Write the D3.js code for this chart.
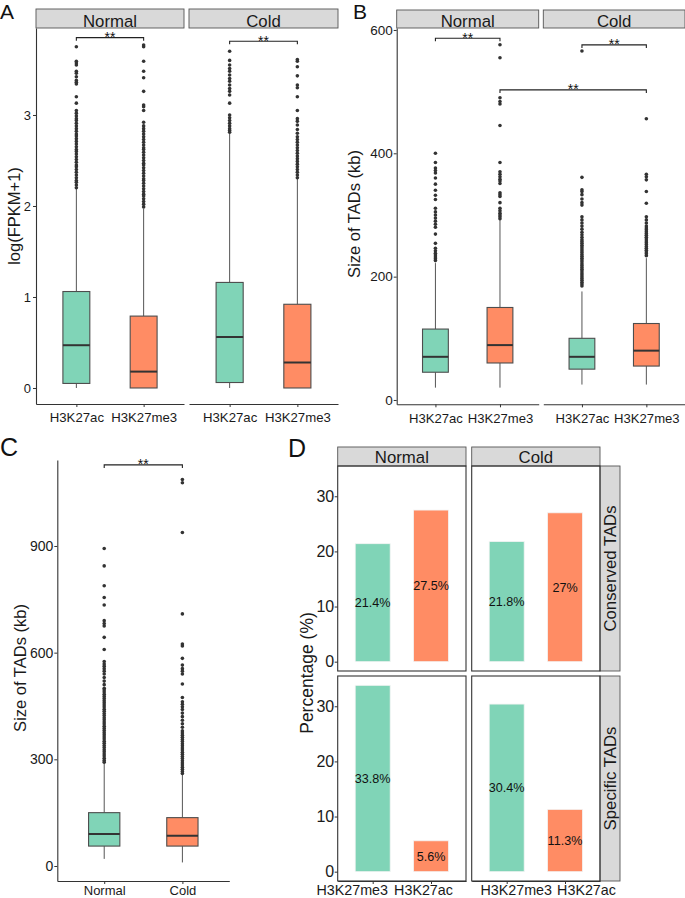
<!DOCTYPE html>
<html>
<head>
<meta charset="utf-8">
<script src="https://cdn.jsdelivr.net/npm/d3@7"></script>
<style>
  body { margin: 0; background: #fff; }
  text { font-family: "Liberation Sans", Arial, sans-serif; }
</style>
</head>
<body>
<div id="fig"></div>
<script>
// ---- données ----
const marks = ["H3K27ac", "H3K27me3"]
const conditions = ["Normal", "Cold"]

// A : log(FPKM+1)  [moustache bas, q1, médiane, q3, moustache haut]
// ordre : Normal-ac, Normal-me3, Cold-ac, Cold-me3
const fpkmStats = [
  [0, 0.05, 0.47, 1.06, 2.19],
  [0, 0, 0.18, 0.79, 1.97],
  [0, 0.06, 0.56, 1.16, 2.80],
  [0, 0, 0.28, 0.92, 2.30]
]
const fpkmOutliers = [
  [3.75,3.59,3.57,3.55,3.48,3.46,3.42,3.38,3.36,3.34,3.20,3.13,3.05,3.02,2.99,2.96,2.94,2.91,2.88,2.85,2.82,2.79,2.77,2.74,2.71,2.68,2.65,2.62,2.60,2.57,2.54,2.51,2.48,2.45,2.43,2.40,2.37,2.34,2.31,2.28,2.26,2.23,2.20],
  [3.77,3.75,3.59,3.48,3.41,3.26,3.11,3.09,3.05,2.92,2.88,2.85,2.82,2.79,2.76,2.73,2.70,2.67,2.64,2.62,2.59,2.56,2.53,2.50,2.47,2.45,2.42,2.39,2.36,2.33,2.30,2.28,2.25,2.22,2.19,2.16,2.13,2.11,2.08,2.05,2.02,1.99],
  [3.70,3.60,3.55,3.51,3.48,3.44,3.40,3.37,3.33,3.29,3.26,3.22,3.13,3.00,2.97,2.94,2.91,2.88,2.85,2.83,2.81],
  [3.61,3.59,3.53,3.43,3.33,3.30,3.20,3.05,2.96,2.93,2.89,2.84,2.80,2.76,2.73,2.70,2.67,2.64,2.61,2.58,2.55,2.52,2.49,2.46,2.43,2.40,2.37,2.34,2.31]
]

// B : taille des TADs (kb), même ordre
const tadStats = [
  [20, 45, 70, 115, 222],
  [20, 60, 89, 150, 292],
  [25, 50, 70, 100, 176],
  [25, 55, 80, 124, 230]
]
const tadOutliers = [
  [400,385,376,372,368,360,350,340,332,325,311,305,300,295,290,285,280,269,254,246,242,238,235,232,229,226],
  [576,555,490,484,480,445,385,370,366,362,358,355,351,336,333,330,320,311,307,303,300,297,294],
  [566,361,341,338,333,326,320,316,297,292,287,282,277,272,268,264,260,257,254,251,248,245,242,239,236,233,230,227,224,221,218,215,212,209,206,203,200,197,194,191,188,185],
  [456,366,362,357,338,319,297,292,287,282,279,276,273,270,267,264,261,258,255,252,249,246,243,240,237,234]
]

// C : taille des TADs par condition
const tadCondStats = [
  [20, 56, 90, 150, 289],
  [10, 56, 85, 136, 256]
]
const tadCondOutliers = [
  [893,844,788,755,734,690,682,675,643,609,575,568,562,555,548,540,530,520,510,500,495,489,483,477,471,465,459,453,447,441,435,429,423,417,411,405,399,393,387,381,375,369,363,357,351,345,339,333,327,321,315,309,303,297,292],
  [1087,1078,938,709,624,619,584,565,555,548,540,512,474,462,455,448,440,430,420,410,400,390,380,374,368,362,356,350,344,338,332,326,320,314,308,302,296,290,284,278,272,266,260]
]

// D : pourcentages
const dMarks = ["H3K27me3", "H3K27ac"]
const dTypes = ["Conserved TADs", "Specific TADs"]
const pctConserved = [[21.4, 27.5], [21.8, 27]]   // Normal, Cold
const pctSpecific = [[33.8, 5.6], [30.4, 11.3]]

const fillCols = ["#80d4b7", "#ff8c64"]

// ---- mise en page ----
const svg = d3.select("#fig").append("svg")
  .attr("width", 685)
  .attr("height", 898)

const FONT = '"Liberation Sans", Arial, sans-serif'

function styleAxis(g, fs) {
  g.attr("font-family", FONT).attr("font-size", fs)
  g.selectAll("path.domain").attr("stroke", "#333").attr("stroke-width", 1.1)
  g.selectAll(".tick line").attr("stroke", "#333")
  g.selectAll(".tick text").attr("fill", "#1a1a1a")
}

function strip(x0, x1, y0, y1, label, base) {
  svg.append("rect")
    .attr("x", x0).attr("y", y0).attr("width", x1 - x0).attr("height", y1 - y0)
    .attr("fill", "#d9d9d9").attr("stroke", "#555").attr("stroke-width", 0.9)
  svg.append("text")
    .attr("x", (x0 + x1) / 2).attr("y", base)
    .attr("text-anchor", "middle")
    .style("font-size", "16.8px")
    .attr("fill", "#1a1a1a")
    .text(label)
}

function yTitle(x, y, label, fs) {
  svg.append("text")
    .attr("transform", `translate(${x},${y}) rotate(-90)`)
    .attr("text-anchor", "middle")
    .style("font-size", fs + "px")
    .attr("fill", "#1a1a1a")
    .text(label)
}

function panelLetter(x, y, l, fs) {
  svg.append("text").attr("x", x).attr("y", y)
    .style("font-size", fs + "px").attr("fill", "#111").text(l)
}

// boîtes à moustaches
function drawBoxes(x, y, stats, outliers) {
  const g = svg.append("g")
  stats.forEach((s, i) => {
    const cx = x(i + 1)
    g.append("line").attr("x1", cx).attr("x2", cx).attr("y1", y(s[0])).attr("y2", y(s[1]))
      .attr("stroke", "#555").attr("stroke-width", 1)
    g.append("line").attr("x1", cx).attr("x2", cx).attr("y1", y(s[3])).attr("y2", y(s[4]))
      .attr("stroke", "#555").attr("stroke-width", 1)
    g.append("rect")
      .attr("x", x(i + 1 - 0.2)).attr("width", x(i + 1.2) - x(i + 0.8))
      .attr("y", y(s[3])).attr("height", y(s[1]) - y(s[3]))
      .attr("fill", fillCols[i]).attr("stroke", "#4d4d4d").attr("stroke-width", 1.1)
    g.append("line").attr("x1", x(i + 0.8)).attr("x2", x(i + 1.2))
      .attr("y1", y(s[2])).attr("y2", y(s[2]))
      .attr("stroke", "#333").attr("stroke-width", 2)
    g.selectAll(null)
      .data(outliers[i])
      .join("circle")
        .attr("cx", cx)
        .attr("cy", d => y(d))
        .attr("r", 1.8)
        .attr("fill", "#333")
  })
}

function bracket(x1, x2, yl, label) {
  svg.append("path")
    .attr("d", `M${x1},${yl + 3}V${yl}H${x2}V${yl + 3}`)
    .attr("fill", "none").attr("stroke", "#222").attr("stroke-width", 1.1)
  svg.append("text")
    .attr("x", (x1 + x2) / 2).attr("y", yl + 4.5)
    .attr("text-anchor", "middle")
    .style("font-size", "14px").attr("fill", "#111")
    .text(label)
}

const plain = d => d

// ---- panneau A ----
const colsA = [[36, 184], [189, 338]]
const yA = d3.scaleLinear().domain([-0.176, 3.956]).range([404, 28])
const xA = colsA.map(c => d3.scaleLinear().domain([0.4, 2.6]).range(c))

colsA.forEach((c, ci) => {
  strip(c[0], c[1], 9, 28, conditions[ci], 26.5)
  drawBoxes(xA[ci], yA, fpkmStats.slice(ci * 2, ci * 2 + 2), fpkmOutliers.slice(ci * 2, ci * 2 + 2))
  svg.append("g")
    .attr("transform", "translate(0,404)")
    .call(d3.axisBottom(xA[ci]).tickValues([1, 2]).tickFormat(i => marks[i - 1])
      .tickSize(3).tickSizeOuter(0).tickPadding(6))
    .call(g => styleAxis(g, 13.2))
})
svg.append("g")
  .attr("transform", "translate(36,0)")
  .call(d3.axisLeft(yA).tickValues([0, 1, 2, 3]).tickFormat(plain).tickSize(3).tickSizeOuter(0).tickPadding(2))
  .call(g => styleAxis(g, 13))

bracket(xA[0](1), xA[0](2), yA(3.85), "**")
bracket(xA[1](1), xA[1](2), yA(3.81), "**")
yTitle(20, 216, "log(FPKM+1)", 16.5)
panelLetter(0, 19, "A", 21)

// ---- panneau B ----
const colsB = [[396.7, 538.7], [543.3, 685]]
const yB = d3.scaleLinear().domain([-7, 603.2]).range([404.3, 28])
const xB = colsB.map(c => d3.scaleLinear().domain([0.4, 2.6]).range(c))

colsB.forEach((c, ci) => {
  strip(c[0], c[1], 10, 28, conditions[ci], 26.7)
  drawBoxes(xB[ci], yB, tadStats.slice(ci * 2, ci * 2 + 2), tadOutliers.slice(ci * 2, ci * 2 + 2))
  svg.append("g")
    .attr("transform", "translate(0,404.3)")
    .call(d3.axisBottom(xB[ci]).tickValues([1, 2]).tickFormat(i => marks[i - 1])
      .tickSize(3).tickSizeOuter(0).tickPadding(6))
    .call(g => styleAxis(g, 13.1))
})
svg.append("g")
  .attr("transform", "translate(396.7,0)")
  .call(d3.axisLeft(yB).tickValues([0, 200, 400, 600]).tickFormat(plain).tickSize(3).tickSizeOuter(0).tickPadding(1))
  .call(g => styleAxis(g, 13.5))

bracket(xB[0](1), xB[0](2), yB(586.7), "**")
bracket(xB[1](1), xB[1](2), yB(575.8), "**")
bracket(xB[0](2), xB[1](2), yB(502.8), "**")
yTitle(360, 214, "Size of TADs (kb)", 16.5)
panelLetter(353, 19, "B", 21)

// ---- panneau C ----
const xC = d3.scaleLinear().domain([0.4, 2.6]).range([57.3, 229.3])
const yC = d3.scaleLinear().domain([-42.2, 1141.8]).range([881, 460])
drawBoxes(xC, yC, tadCondStats, tadCondOutliers)
svg.append("g")
  .attr("transform", "translate(0,881)")
  .call(d3.axisBottom(xC).tickValues([1, 2]).tickFormat(i => conditions[i - 1])
    .tickSize(3).tickSizeOuter(0).tickPadding(1.5))
  .call(g => styleAxis(g, 13))
svg.append("g")
  .attr("transform", "translate(57.3,0)")
  .call(d3.axisLeft(yC).tickValues([0, 300, 600, 900]).tickFormat(plain).tickSize(3).tickSizeOuter(0).tickPadding(1))
  .call(g => styleAxis(g, 14))
bracket(xC(1), xC(2), yC(1128), "**")
yTitle(26, 668, "Size of TADs (kb)", 16.5)
panelLetter(0, 456, "C", 25)

// ---- panneau D ----
const colsD = [[337.7, 466], [471.7, 600]]
const rowsD = [[466, 671], [676, 881]]
const pctRows = [pctConserved, pctSpecific]
const labelNudge = [[-21, -8], [9, 21]]

colsD.forEach((c, ci) => strip(c[0], c[1], 447, 466, conditions[ci], 463.3))

rowsD.forEach((r, ri) => {
  // bandeau de droite
  svg.append("rect")
    .attr("x", 600).attr("y", r[0]).attr("width", 20).attr("height", r[1] - r[0])
    .attr("fill", "#d9d9d9").attr("stroke", "#555").attr("stroke-width", 0.9)
  svg.append("text")
    .attr("transform", `translate(615.5,${(r[0] + r[1]) / 2}) rotate(-90)`)
    .attr("text-anchor", "middle")
    .style("font-size", "16.8px").attr("fill", "#1a1a1a")
    .text(dTypes[ri])

  const y = d3.scaleLinear().domain([-1.69, 35.49]).range([r[1], r[0]])

  colsD.forEach((c, ci) => {
    const x = d3.scaleLinear().domain([0.4, 2.6]).range(c)
    const vals = pctRows[ri][ci]
    svg.append("g").selectAll("rect")
      .data(vals)
      .join("rect")
        .attr("x", (d, i) => x(i + 1 - 0.3))
        .attr("width", x(1.3) - x(0.7))
        .attr("y", d => y(d))
        .attr("height", d => y(0) - y(d))
        .attr("fill", (d, i) => fillCols[i])
        .attr("stroke", "#f4f4f4").attr("stroke-width", 0.8)
    svg.append("g").selectAll("text")
      .data(vals)
      .join("text")
        .attr("x", (d, i) => x(i + 1))
        .attr("y", d => y(d / 2))
        .attr("dy", "0.35em")
        .attr("text-anchor", "middle")
        .style("font-size", "12.6px").attr("fill", "#111")
        .text(d => d + "%")
    svg.append("rect")
      .attr("x", c[0]).attr("y", r[0]).attr("width", c[1] - c[0]).attr("height", r[1] - r[0])
      .attr("fill", "none").attr("stroke", "#333").attr("stroke-width", 1.1)

    if (ri === 1) {
      const ax = svg.append("g")
        .attr("transform", `translate(0,${r[1]})`)
        .call(d3.axisBottom(x).tickValues([1, 2]).tickFormat(i => dMarks[i - 1])
          .tickSize(3).tickSizeOuter(0).tickPadding(1))
        .call(g => styleAxis(g, 14.3))
      ax.selectAll(".tick text").attr("dx", (d, i) => labelNudge[ci][i])
    }
  })

  svg.append("g")
    .attr("transform", `translate(${colsD[0][0]},0)`)
    .call(d3.axisLeft(y).tickValues([0, 10, 20, 30]).tickFormat(plain).tickSize(3).tickSizeOuter(0).tickPadding(0.5))
    .call(g => styleAxis(g, 16))
    .call(g => g.select("path.domain").remove())
})

yTitle(313, 673, "Percentage (%)", 17.5)
panelLetter(288, 457, "D", 25)
</script>
</body>
</html>
